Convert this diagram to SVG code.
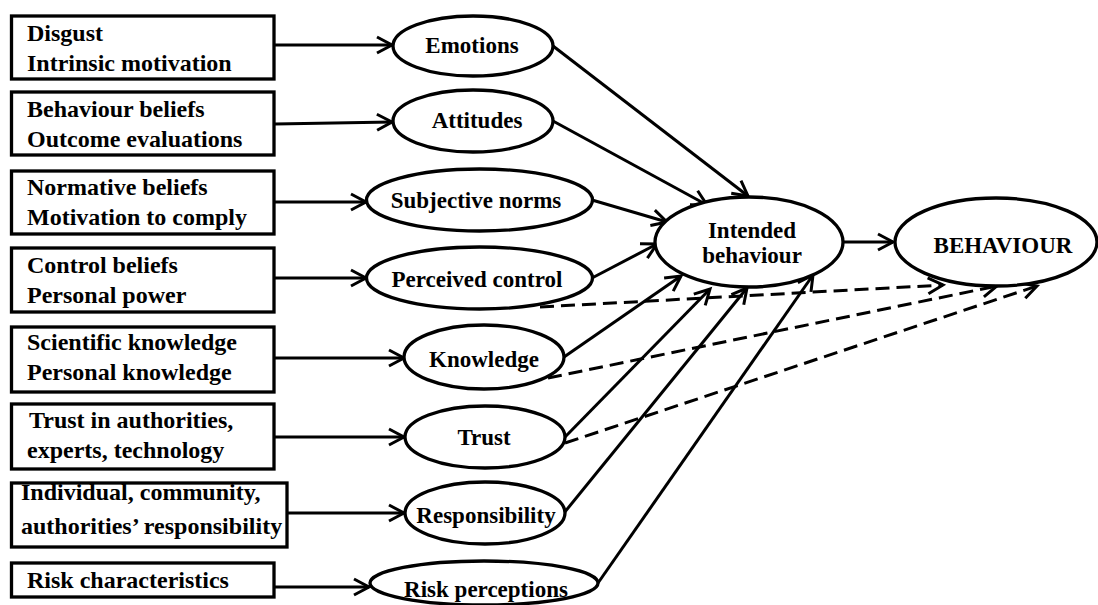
<svg xmlns="http://www.w3.org/2000/svg" width="1098" height="605" viewBox="0 0 1098 605">
  <defs>
    <marker id="arrow" markerUnits="userSpaceOnUse" markerWidth="20" markerHeight="20" refX="15" refY="8" orient="auto" overflow="visible">
      <path d="M0,0 L15,8 L0,16" fill="none" stroke="#000" stroke-width="3" stroke-linejoin="miter"/>
    </marker>
    <style>
      .box { fill: #fff; stroke: #000; stroke-width: 3.3; }
      .ell { fill: #fff; stroke: #000; stroke-width: 3.3; }
      .bt { font-family: "Liberation Serif", "Times New Roman", serif; font-weight: bold; font-size: 24px; fill: #000; }
      .et { font-family: "Liberation Serif", "Times New Roman", serif; font-weight: bold; font-size: 23px; fill: #000; text-anchor: middle; }
      .ln { stroke: #000; stroke-width: 3; fill: none; marker-end: url(#arrow); }
      .dash { stroke-dasharray: 14 7; }
    </style>
  </defs>
  <rect width="1098" height="605" fill="#fff"/>

  <g id="connectors">
    <!-- factors to constructs -->
    <line class="ln" x1="275" y1="45" x2="392" y2="45"/>
    <line class="ln" x1="275" y1="124" x2="392" y2="122"/>
    <line class="ln" x1="275" y1="202" x2="366" y2="202"/>
    <line class="ln" x1="275" y1="278" x2="366" y2="278"/>
    <line class="ln" x1="275" y1="358" x2="404" y2="358"/>
    <line class="ln" x1="275" y1="437" x2="404" y2="437"/>
    <line class="ln" x1="288" y1="513" x2="404" y2="513"/>
    <line class="ln" x1="275" y1="587" x2="369" y2="587"/>
    <!-- constructs to intended behaviour -->
    <line class="ln" x1="553" y1="46" x2="748" y2="196"/>
    <line class="ln" x1="553" y1="121" x2="707" y2="205"/>
    <line class="ln" x1="592" y1="200" x2="667" y2="222"/>
    <line class="ln" x1="592" y1="278" x2="657" y2="244"/>
    <line class="ln" x1="564" y1="357" x2="681" y2="276"/>
    <line class="ln" x1="565" y1="437" x2="710" y2="289"/>
    <line class="ln" x1="564" y1="513" x2="747" y2="288"/>
    <line class="ln" x1="598" y1="583" x2="813" y2="275"/>
    <!-- intended behaviour to behaviour -->
    <line class="ln" x1="843" y1="242" x2="893" y2="242"/>
    <!-- direct (dashed) paths to behaviour -->
    <line class="ln dash" x1="540" y1="307" x2="943" y2="285"/>
    <line class="ln dash" x1="548" y1="378" x2="997" y2="286"/>
    <line class="ln dash" x1="565" y1="443" x2="1037" y2="286"/>
  </g>

  <g id="box-disgust">
    <rect class="box" x="11.5" y="16" width="262.5" height="63"/>
    <text class="bt" x="27" y="41">Disgust</text>
    <text class="bt" x="27" y="71">Intrinsic motivation</text>
  </g>
  <g id="box-beliefs">
    <rect class="box" x="11.5" y="92" width="262.5" height="63"/>
    <text class="bt" x="27" y="117">Behaviour beliefs</text>
    <text class="bt" x="27" y="147">Outcome evaluations</text>
  </g>
  <g id="box-normative">
    <rect class="box" x="11.5" y="171" width="262.5" height="63"/>
    <text class="bt" x="27" y="195">Normative beliefs</text>
    <text class="bt" x="27" y="225">Motivation to comply</text>
  </g>
  <g id="box-control">
    <rect class="box" x="11.5" y="248" width="262.5" height="64"/>
    <text class="bt" x="27" y="273">Control beliefs</text>
    <text class="bt" x="27" y="303">Personal power</text>
  </g>
  <g id="box-knowledge">
    <rect class="box" x="11.5" y="327" width="262.5" height="65"/>
    <text class="bt" x="27" y="350">Scientific knowledge</text>
    <text class="bt" x="27" y="380">Personal knowledge</text>
  </g>
  <g id="box-trust">
    <rect class="box" x="11.5" y="404" width="262.5" height="65"/>
    <text class="bt" x="29" y="428">Trust in authorities,</text>
    <text class="bt" x="27" y="458">experts, technology</text>
  </g>
  <g id="box-responsibility">
    <rect class="box" x="11.5" y="483" width="275.5" height="64"/>
    <text class="bt" x="21" y="500">Individual, community,</text>
    <text class="bt" x="21" y="534">authorities’ responsibility</text>
  </g>
  <g id="box-risk">
    <rect class="box" x="11.5" y="563" width="262.5" height="34"/>
    <text class="bt" x="27" y="588">Risk characteristics</text>
  </g>

  <g id="node-emotions">
    <ellipse class="ell" cx="473" cy="46" rx="80" ry="30"/>
    <text class="et" x="472" y="53">Emotions</text>
  </g>
  <g id="node-attitudes">
    <ellipse class="ell" cx="473" cy="121" rx="80" ry="31"/>
    <text class="et" x="477" y="128">Attitudes</text>
  </g>
  <g id="node-norms">
    <ellipse class="ell" cx="479.5" cy="200" rx="113" ry="31"/>
    <text class="et" x="476" y="208">Subjective norms</text>
  </g>
  <g id="node-control">
    <ellipse class="ell" cx="479.5" cy="278" rx="113" ry="31"/>
    <text class="et" x="477" y="287">Perceived control</text>
  </g>
  <g id="node-knowledge">
    <ellipse class="ell" cx="484" cy="357" rx="80" ry="32"/>
    <text class="et" x="484" y="367">Knowledge</text>
  </g>
  <g id="node-trust">
    <ellipse class="ell" cx="485" cy="437" rx="80" ry="31"/>
    <text class="et" x="484" y="445">Trust</text>
  </g>
  <g id="node-responsibility">
    <ellipse class="ell" cx="485" cy="513" rx="80" ry="31"/>
    <text class="et" x="486" y="523">Responsibility</text>
  </g>
  <g id="node-risk">
    <ellipse class="ell" cx="484" cy="583" rx="114" ry="22"/>
    <text class="et" x="486" y="597">Risk perceptions</text>
  </g>
  <g id="node-intended">
    <ellipse class="ell" cx="749" cy="242" rx="94" ry="45"/>
    <text class="et" x="752" y="238">Intended</text>
    <text class="et" x="752" y="263">behaviour</text>
  </g>
  <g id="node-behaviour">
    <ellipse class="ell" cx="996" cy="242" rx="101" ry="44"/>
    <text class="et" x="1003" y="253">BEHAVIOUR</text>
  </g>
</svg>
